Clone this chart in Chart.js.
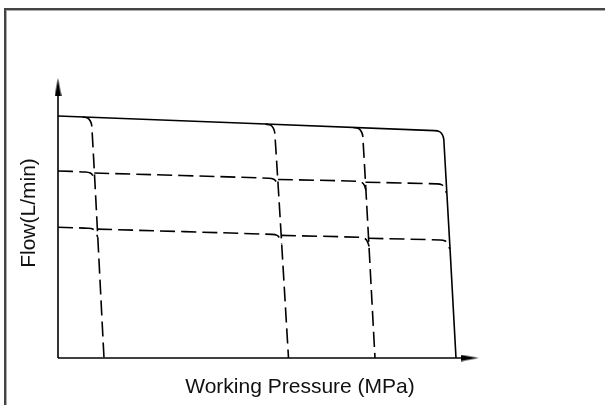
<!DOCTYPE html>
<html>
<head>
<meta charset="utf-8">
<script src="https://cdn.jsdelivr.net/npm/chart.js@4.4.1/dist/chart.umd.min.js"></script>
<style>
html,body{margin:0;padding:0;background:#fff;overflow:hidden;width:605px;height:405px;}
#frame{position:absolute;left:4px;top:8px;width:800px;height:600px;border-top:2px solid #444;border-left:2px solid #444;box-shadow:inset 1px 1px 0 #aaa;}
#c{position:absolute;left:0;top:0;}
</style>
</head>
<body>
<div id="frame"></div>
<canvas id="c" width="605" height="405"></canvas>
<script>
// ---- text ----
const xTitle = "Working Pressure (MPa)";
const yTitle = "Flow(L/min)";

// ---- curves (pressure, flow) in arbitrary chart units ----
// maximum-flow characteristic (solid), ends at highest relief pressure
const maxFlowCurve = [[0,242],[376.5,227.4],[381.5,226.4],[384.3,223.4],[385.8,218.5],[398,0]];
// relief-pressure cut-offs branching from the max-flow curve (dashed)
const relief1 = [[24.5,241],[29.5,240],[32.3,237],[33.8,232],[46,0]];
const relief2 = [[207.5,233.9],[212.5,232.9],[215.3,229.9],[216.8,225],[230.5,0]];
const relief3 = [[295.5,230.5],[300.5,229.5],[303.3,226.5],[304.8,221.6],[317,0]];
// middle flow setting (dashed), segments between cut-offs
const midFlow1 = [[0,187],[27.3,186.0],[32.3,185.0],[35.1,182.0],[36.6,177]];
const midFlow2 = [[36.3,185.0],[210.8,179.8],[215.8,178.8],[218.6,175.8],[220.3,170.8]];
const midFlow3 = [[220,178.5],[298.5,176.8],[303.5,175.8],[306.3,172.8],[307.9,167.8]];
const midFlow4 = [[307.5,175.8],[379,174.1],[384,173.1],[386.8,170.1],[388.4,165]];
// low flow setting (dashed)
const lowFlow1 = [[0,130.7],[30.2,129.7],[35.2,128.7],[38,125.7],[39.7,120.5]];
const lowFlow2 = [[39.2,128.9],[214.1,123.6],[219.1,122.6],[221.9,119.6],[223.7,114.5]];
const lowFlow3 = [[223.1,122.6],[301.5,120.7],[306.5,119.7],[309.3,116.7],[311.1,111.5]];
const lowFlow4 = [[310.5,119.7],[382.2,118.0],[387.2,117.0],[390,114.0],[391.8,109]];
// axes with arrows
const xAxisLine = [[0,0],[412,0]];
const yAxisLine = [[0,0],[0,271]];
const xArrow = [[411.5,0]];
const yArrow = [[0,271]];

// arrow head image
function makeArrow(){
  const cv = document.createElement('canvas');
  cv.width = 18; cv.height = 7;
  const g = cv.getContext('2d');
  g.fillStyle = '#000';
  g.beginPath();
  g.moveTo(0,0.3); g.lineTo(18,3.5); g.lineTo(0,6.7); g.closePath();
  g.fill();
  return cv;
}
const arrowImg = makeArrow();

const FONT = "'Liberation Sans', Arial, Helvetica, sans-serif";
const DASH = [15,6];
function solid(data, w){ return {data, borderColor:'#000', borderWidth:w||1.6, pointRadius:0, tension:0.3, fill:false, clip:false}; }
function dashed(data){ return {data, borderColor:'#000', borderWidth:1.6, borderDash:DASH, pointRadius:0, tension:0.3, fill:false, clip:false}; }
function arrow(data, rot){ return {data, showLine:false, pointStyle:arrowImg, pointRotation:rot, pointRadius:5, clip:false}; }

new Chart(document.getElementById('c'), {
  type:'line',
  data:{ datasets:[
    solid(xAxisLine,1.6), solid(yAxisLine,1.6),
    arrow(xArrow,0), arrow(yArrow,-90),
    solid(maxFlowCurve,1.6),
    dashed(relief1), dashed(relief2), dashed(relief3),
    dashed(midFlow1), dashed(midFlow2), dashed(midFlow3), dashed(midFlow4),
    dashed(lowFlow1), dashed(lowFlow2), dashed(lowFlow3), dashed(lowFlow4)
  ]},
  options:{
    responsive:false, animation:false, devicePixelRatio:1,
    layout:{padding:{left:0,right:63,top:68,bottom:0}},
    plugins:{legend:{display:false}, tooltip:{enabled:false}},
    scales:{
      x:{type:'linear', min:0, max:484,
         grid:{display:false, drawTicks:false}, border:{display:false}, ticks:{display:false},
         title:{display:true, text:xTitle, color:'#111', font:{family:FONT, size:21}, padding:{top:16.8,bottom:5}}},
      y:{type:'linear', min:0, max:290,
         grid:{display:false, drawTicks:false}, border:{display:false}, ticks:{display:false},
         title:{display:true, text:yTitle, color:'#111', font:{family:FONT, size:21}, padding:{top:17,bottom:15.8}}}
    }
  }
});
</script>
</body>
</html>
